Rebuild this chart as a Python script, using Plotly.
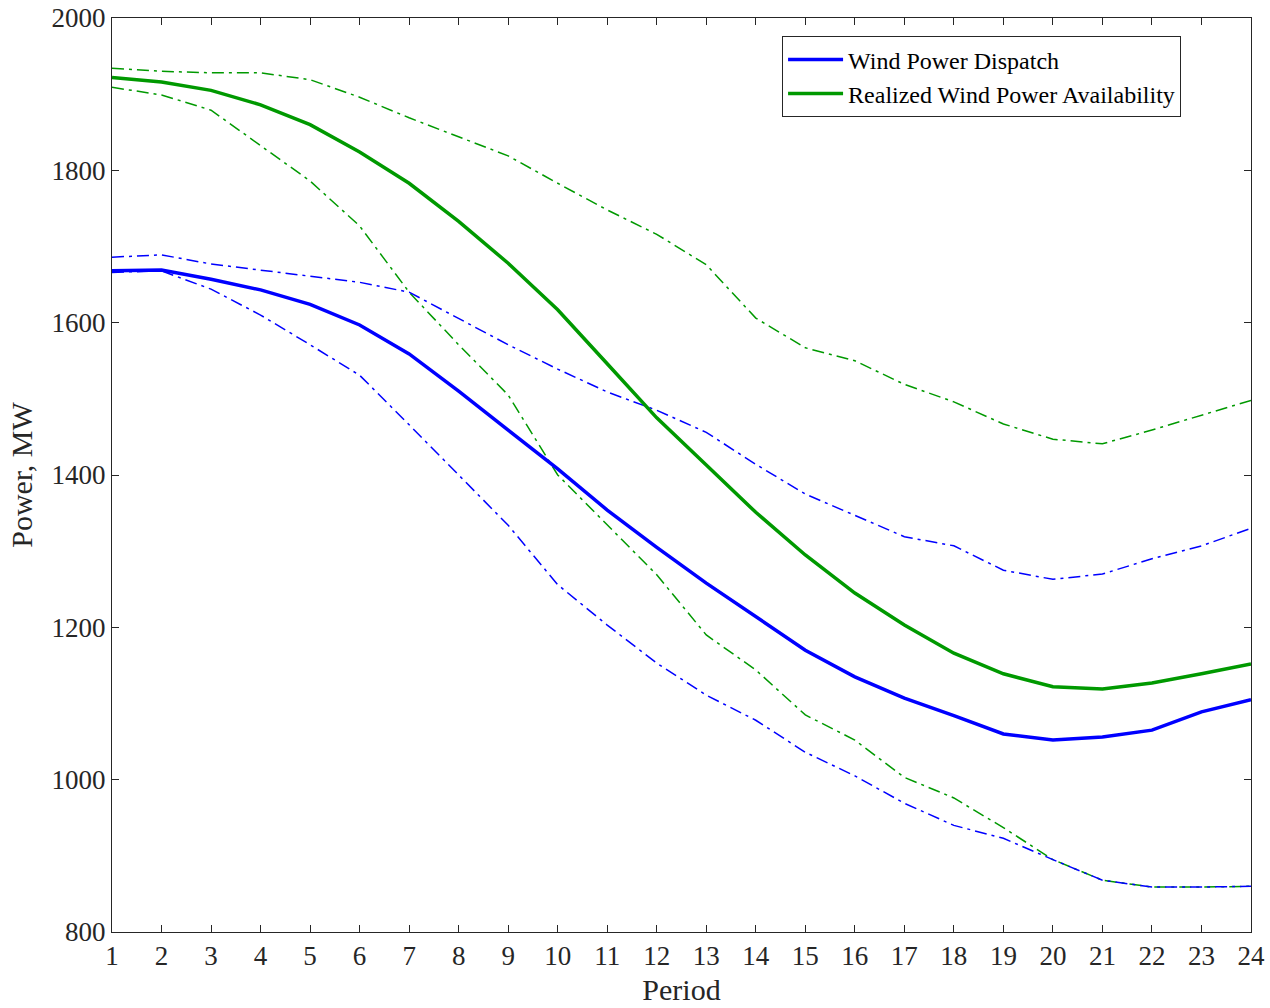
import plotly.graph_objects as go

periods = list(range(1, 25))

dispatch = [1668, 1669, 1657, 1643, 1624, 1597, 1559, 1510, 1459, 1408, 1354, 1305,
            1258, 1214, 1170, 1135, 1107, 1084, 1060, 1052, 1056, 1065, 1089, 1105]
dispatch_upper = [1686, 1689, 1677, 1669, 1661, 1653, 1640, 1606, 1571, 1539, 1509, 1485,
                  1456, 1414, 1375, 1347, 1319, 1307, 1275, 1263, 1270, 1290, 1307, 1330]
dispatch_lower = [1666, 1668, 1644, 1610, 1571, 1531, 1466, 1400, 1334, 1256, 1203, 1153,
                  1111, 1078, 1036, 1005, 969, 940, 923, 895, 868, 859, 859, 860]

avail = [1922, 1916, 1905, 1886, 1860, 1824, 1783, 1733, 1678, 1617, 1546, 1475,
         1413, 1351, 1295, 1245, 1203, 1166, 1139, 1122, 1119, 1127, 1139, 1152]
avail_upper = [1934, 1930, 1928, 1928, 1919, 1896, 1869, 1844, 1819, 1783, 1748, 1716,
               1676, 1606, 1567, 1550, 1519, 1496, 1467, 1447, 1441, 1459, 1479, 1498]
avail_lower = [1909, 1899, 1879, 1833, 1786, 1727, 1640, 1571, 1505, 1400, 1334, 1269,
               1190, 1144, 1085, 1052, 1003, 976, 937, 895, 868, 859, 859, 860]

BLUE = "#0000ff"
GREEN = "#009900"
DASHDOT = "12px,5px,3px,5px"
FONT = "Liberation Serif"
AXC = "#262626"

fig = go.Figure()
fig.add_trace(go.Scatter(x=periods, y=avail_upper, mode="lines", showlegend=False,
                         line=dict(color=GREEN, width=1.5, dash=DASHDOT)))
fig.add_trace(go.Scatter(x=periods, y=avail_lower, mode="lines", showlegend=False,
                         line=dict(color=GREEN, width=1.5, dash=DASHDOT)))
fig.add_trace(go.Scatter(x=periods, y=dispatch_upper, mode="lines", showlegend=False,
                         line=dict(color=BLUE, width=1.5, dash=DASHDOT)))
fig.add_trace(go.Scatter(x=periods, y=dispatch_lower, mode="lines", showlegend=False,
                         line=dict(color=BLUE, width=1.5, dash=DASHDOT)))
fig.add_trace(go.Scatter(x=periods, y=dispatch, mode="lines", name="Wind Power Dispatch",
                         line=dict(color=BLUE, width=3.5)))
fig.add_trace(go.Scatter(x=periods, y=avail, mode="lines", name="Realized Wind Power Availability",
                         line=dict(color=GREEN, width=3.5)))

axis_common = dict(
    showline=True, mirror="ticks", linecolor=AXC, linewidth=1,
    ticks="inside", ticklen=7, tickcolor=AXC, tickwidth=1,
    showgrid=False, zeroline=False, automargin=False,
    tickfont=dict(family=FONT, size=27, color=AXC),
)

fig.update_layout(
    width=1270, height=1008,
    margin=dict(l=112, r=19, t=18, b=76, autoexpand=False),
    paper_bgcolor="white", plot_bgcolor="white",
    font=dict(family=FONT, color=AXC),
    xaxis=dict(range=[1, 24], tickmode="array", tickvals=periods,
               title=dict(text="Period", font=dict(family=FONT, size=30, color=AXC),
                          standoff=8),
               **axis_common),
    yaxis=dict(range=[800, 2000], tickmode="array", tickvals=[800, 1000, 1200, 1400, 1600, 1800, 2000],
               title=dict(text="Power, MW", font=dict(family=FONT, size=30, color=AXC),
                          standoff=10),
               **axis_common),
    legend=dict(x=0.9386, y=0.980, xanchor="right", yanchor="top",
                bgcolor="white", bordercolor=AXC, borderwidth=1,
                font=dict(family=FONT, size=24, color="#000000"),
                itemwidth=55, tracegroupgap=0),
    showlegend=True,
)

fig.write_html("out.html")
